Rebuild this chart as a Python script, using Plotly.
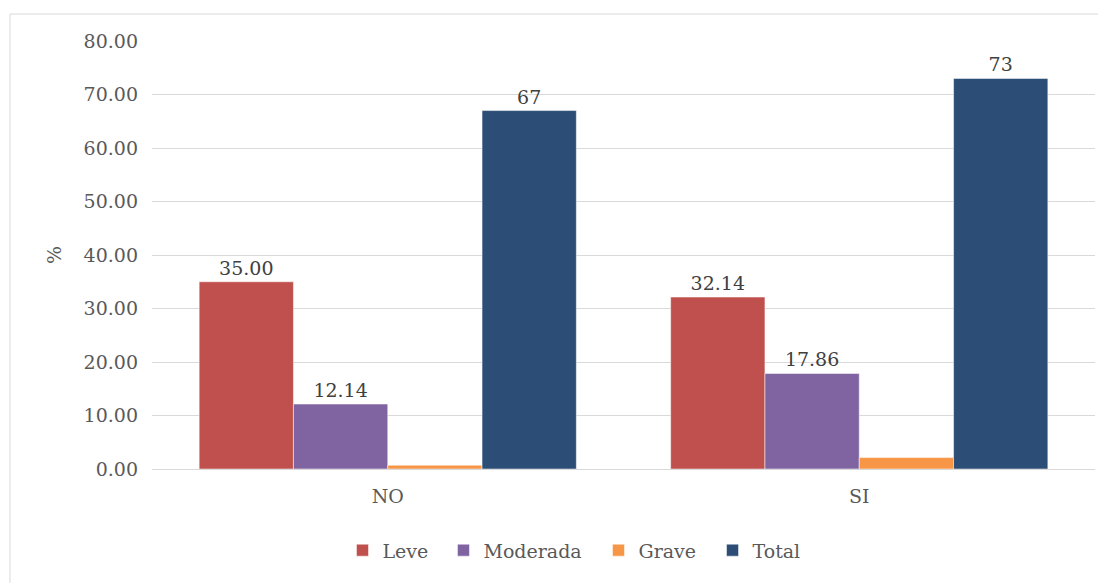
import plotly.graph_objects as go

categories = ["NO", "SI"]
leve = [35.00, 32.14]
moderada = [12.14, 17.86]
grave = [0.71, 2.14]
total = [67, 73]
y_ticks = [0, 10, 20, 30, 40, 50, 60, 70, 80]

FONT = "DejaVu Serif"
TXT = "#595959"
FS = 19

series = [
    ("Leve", leve, "#C0504D", [f"{v:.2f}" for v in leve]),
    ("Moderada", moderada, "#8064A2", [f"{v:.2f}" for v in moderada]),
    ("Grave", grave, "#F79646", ["" for v in grave]),
    ("Total", total, "#2C4D75", [f"{v:d}" for v in total]),
]
legend_ids = ["legend", "legend2", "legend3", "legend4"]
legend_x = [0.2020, 0.3091, 0.4735, 0.5944]

fig = go.Figure()
for (name, vals, col, txt), lid in zip(series, legend_ids):
    fig.add_trace(go.Bar(
        name=name, x=categories, y=vals, legend=lid,
        marker=dict(color=col, line=dict(color="rgba(255,255,255,0.5)", width=1)),
        text=txt, textposition="outside", cliponaxis=False,
        textfont=dict(family=FONT, size=FS, color="#404040"),
    ))

legend_layout = {}
for lid, lx in zip(legend_ids, legend_x):
    legend_layout[lid] = dict(orientation="h", x=lx, xanchor="left", y=-0.19, yanchor="middle",
                              font=dict(family=FONT, size=FS, color=TXT), itemwidth=30,
                              bgcolor="rgba(0,0,0,0)")

# page body has an 8px offset in the browser; figure sized to compensate
fig.update_layout(
    width=1098, height=575,
    margin=dict(l=144, r=11, t=33, b=114),
    paper_bgcolor="white", plot_bgcolor="white",
    barmode="group", bargap=0.2, bargroupgap=0,
    font=dict(family=FONT, size=FS, color=TXT),
    showlegend=True,
    xaxis=dict(showgrid=False, showline=False, ticks="", ticklabelstandoff=14,
               tickfont=dict(family=FONT, size=FS, color=TXT)),
    yaxis=dict(range=[0, 80], tickvals=y_ticks,
               ticktext=[f"{v:.2f}" for v in y_ticks],
               showgrid=True, gridcolor="#D9D9D9", gridwidth=1,
               zeroline=True, zerolinecolor="#D9D9D9", zerolinewidth=1,
               showline=False, ticks="", ticklen=0, ticklabelstandoff=13,
               tickfont=dict(family=FONT, size=FS, color=TXT),
               title=dict(text="%", font=dict(family=FONT, size=FS, color=TXT), standoff=16)),
    shapes=[dict(type="rect", xref="paper", yref="paper",
                 x0=-0.1506, x1=1.0106, y0=-0.29, y1=1.063,
                 line=dict(color="#D9D9D9", width=1), layer="below")],
    **legend_layout,
)

fig.write_html("out.html")
